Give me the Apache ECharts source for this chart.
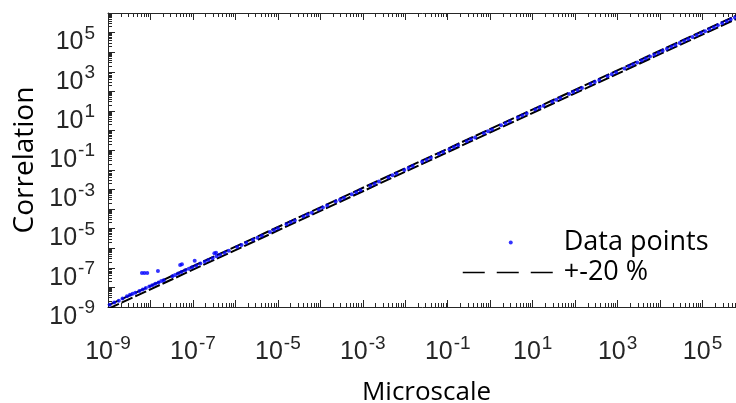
<!DOCTYPE html>
<html>
<head>
<meta charset="utf-8">
<script src="https://cdn.jsdelivr.net/npm/echarts@6/dist/echarts.min.js"></script>
<style>
html, body { margin: 0; padding: 0; background: #fff; }
#main { width: 736px; height: 403px; }
</style>
</head>
<body>
<div id="main"></div>
<script>
// axis range (both axes are log10)
var axisMin = 1e-9;
var axisMax = 1e6;

var dataPoints = [
  [1.1e-9,1.3e-9],[1.4e-9,1.7e-9],[1.8e-9,2.1e-9],[2.2e-9,2.7e-9],[2.8e-9,3.5e-9],[3.3e-9,4.2e-9],
  [3.8e-9,4.7e-9],[4.4e-9,5.3e-9],[5.5e-9,6.5e-9],[6.6e-9,7.9e-9],[7.8e-9,9.3e-9],
  [9.4e-9,1.12e-8],[1.1e-8,1.3e-8],[1.3e-8,1.55e-8],[1.55e-8,1.8e-8],[1.8e-8,2.1e-8],[2.05e-8,2.35e-8],
  [3.3e-8,3.7e-8],[3.8e-8,4.3e-8],[4.5e-8,5.1e-8],[5.4e-8,6.1e-8],[6.6e-8,7.4e-8],[8.0e-8,8.9e-8],
  [9.6e-8,1.06e-7],[1.2e-7,1.32e-7],[1.5e-7,1.64e-7],[1.9e-7,2.05e-7],[2.3e-7,2.5e-7],[2.9e-7,3.1e-7],
  [3.6e-7,3.85e-7],[4.4e-7,4.7e-7],[5.6e-7,5.9e-7],[7.0e-7,7.4e-7],
  [1.1e-6,1.15e-6],[1.4e-6,1.45e-6],[1.8e-6,1.9e-6],[2.6e-6,2.7e-6],[3.3e-6,3.45e-6],[4.2e-6,4.3e-6],
  [6.5e-6,6.8e-6],[8.1e-6,8.4e-6],
  [1.0e-5,1.04e-5],[1.6e-5,1.65e-5],[2.0e-5,2.08e-5],[2.5e-5,2.6e-5],[4.0e-5,4.1e-5],[5.0e-5,5.2e-5],
  [6.3e-5,6.5e-5],[9.2e-5,9.5e-5],
  [1.15e-4,1.2e-4],[1.45e-4,1.5e-4],[2.3e-4,2.4e-4],[2.9e-4,3.0e-4],[3.6e-4,3.7e-4],[5.5e-4,5.7e-4],
  [7.0e-4,7.2e-4],[8.8e-4,9.1e-4],
  [1.5e-3,1.55e-3],[1.9e-3,1.95e-3],[2.4e-3,2.5e-3],[4.0e-3,4.1e-3],[5.0e-3,5.2e-3],[6.2e-3,6.4e-3],
  [9.5e-3,9.8e-3],
  [1.2e-2,1.24e-2],[1.5e-2,1.55e-2],[2.5e-2,2.6e-2],[3.2e-2,3.3e-2],[4.0e-2,4.1e-2],[6.2e-2,6.4e-2],
  [7.8e-2,8.0e-2],
  [0.11,0.113],[0.14,0.144],[0.175,0.18],[0.28,0.29],[0.35,0.36],[0.44,0.45],[0.71,0.73],[0.89,0.92],
  [1.1,1.13],[1.8,1.85],[2.3,2.35],[2.9,3.0],[4.5,4.6],[5.7,5.85],[7.2,7.4],
  [11.5,11.8],[14.5,14.9],[18,18.5],[29,29.8],[36,37],[45,46],[72,74],[90,92],
  [115,118],[145,149],[230,236],[290,298],[370,380],[580,595],[730,750],[920,945],
  [1450,1490],[1850,1900],[2300,2360],[2900,2980],[3700,3800],[4600,4720],[5800,5950],[7300,7500],[9200,9450],
  [1.15e4,1.18e4],[1.45e4,1.49e4],[1.85e4,1.9e4],[2.3e4,2.36e4],[2.9e4,2.98e4],[3.7e4,3.8e4],
  [4.6e4,4.72e4],[5.8e4,5.95e4],[7.3e4,7.5e4],[9.2e4,9.45e4],
  [1.15e5,1.18e5],[1.45e5,1.49e5],[1.85e5,1.9e5],[2.3e5,2.36e5],[2.9e5,2.98e5],[3.7e5,3.8e5],
  [4.6e5,4.72e5],[5.8e5,5.95e5]
];

// the few points sitting above the line at small microscale
var outliers = [
  [6.3e-9,5.4e-8],[7.2e-9,5.5e-8],[8.4e-9,5.4e-8],[1.5e-8,6.9e-8],
  [5.0e-8,1.4e-7],[5.5e-8,1.5e-7],[1.1e-7,2.3e-7],[3.2e-7,5.5e-7],[3.5e-7,5.8e-7]
];

// +20 % and -20 % bounds
var bandUpper = [[1e-9, 1.2e-9], [1e6, 1.2e6]];
var bandLower = [[1e-9, 0.8e-9], [1e6, 0.8e6]];

var tickColor = '#262626';
var tickFont = 'Liberation Sans';
var textFont = 'Open Sans';

function powLabel(v) {
  var e = Math.round(Math.log10(v));
  if (e % 2 === 0) return '';
  return '{b|10}{s|' + e + '}';
}

var richPow = {
  b: { fontFamily: tickFont, fontSize: 25, lineHeight: 25, padding: [16, 0, 0, 0], color: tickColor },
  s: { fontFamily: tickFont, fontSize: 19, lineHeight: 19, padding: [0, 0, 2, 1], color: tickColor }
};

function logAxis(extra) {
  var a = {
    type: 'log',
    logBase: 10,
    min: axisMin,
    max: axisMax,
    interval: 1,
    splitNumber: 15,
    nameMoveOverlap: false,
    axisLine: { show: true, lineStyle: { color: tickColor, width: 1 } },
    axisTick: { show: true, inside: true, length: 7, lineStyle: { color: tickColor } },
    minorTick: { show: true, splitNumber: 9, length: 4, lineStyle: { color: tickColor } },
    splitLine: { show: false },
    minorSplitLine: { show: false },
    axisLabel: { show: false }
  };
  for (var k in extra) a[k] = extra[k];
  return a;
}

var myChart = echarts.init(document.getElementById('main'));
var option = {
  backgroundColor: '#fff',
  animation: false,
  grid: { left: 108, top: 13, width: 637, height: 294, outerBoundsMode: 'none', containLabel: false },
  legend: {
    orient: 'vertical',
    left: 457,
    top: 224,
    itemWidth: 96,
    itemHeight: 4,
    itemGap: 3,
    textStyle: { fontFamily: textFont, fontSize: 27, color: '#000', lineHeight: 26 },
    data: [
      { name: 'Data points', icon: 'circle' },
      { name: '+-20 %', itemStyle: { opacity: 0 }, lineStyle: { type: [22, 12], width: 1.5 } }
    ]
  },
  xAxis: [
    logAxis({
      position: 'bottom',
      name: 'Microscale',
      nameLocation: 'middle',
      nameGap: 73,
      nameTextStyle: { fontFamily: textFont, fontSize: 26, color: '#000' },
      axisLabel: { show: true, margin: 25, formatter: powLabel, rich: richPow, showMinLabel: true, showMaxLabel: true }
    }),
    logAxis({ position: 'top', gridIndex: 0 })
  ],
  yAxis: [
    logAxis({
      position: 'left',
      name: 'Correlation',
      nameLocation: 'middle',
      nameRotate: 90,
      nameGap: 69,
      nameTextStyle: { fontFamily: textFont, fontSize: 28, color: '#000' },
      axisLabel: { show: true, margin: 13, padding: [4, 0, 0, 0], formatter: powLabel, rich: richPow, showMinLabel: true, showMaxLabel: true }
    })
  ],
  series: [
    {
      name: '+-20 %',
      type: 'line',
      data: bandUpper,
      symbol: 'none',
      lineStyle: { color: '#000', width: 2, type: [12, 3] },
      itemStyle: { color: '#000' },
      z: 2
    },
    {
      name: '+-20 %',
      type: 'line',
      data: bandLower,
      symbol: 'none',
      lineStyle: { color: '#000', width: 2, type: [12, 3] },
      itemStyle: { color: '#000' },
      z: 2
    },
    {
      name: 'Data points',
      type: 'scatter',
      data: dataPoints.concat(outliers),
      symbol: 'circle',
      symbolSize: 4,
      itemStyle: { color: '#0000ff' },
      z: 3
    }
  ]
};
myChart.setOption(option);
</script>
</body>
</html>
